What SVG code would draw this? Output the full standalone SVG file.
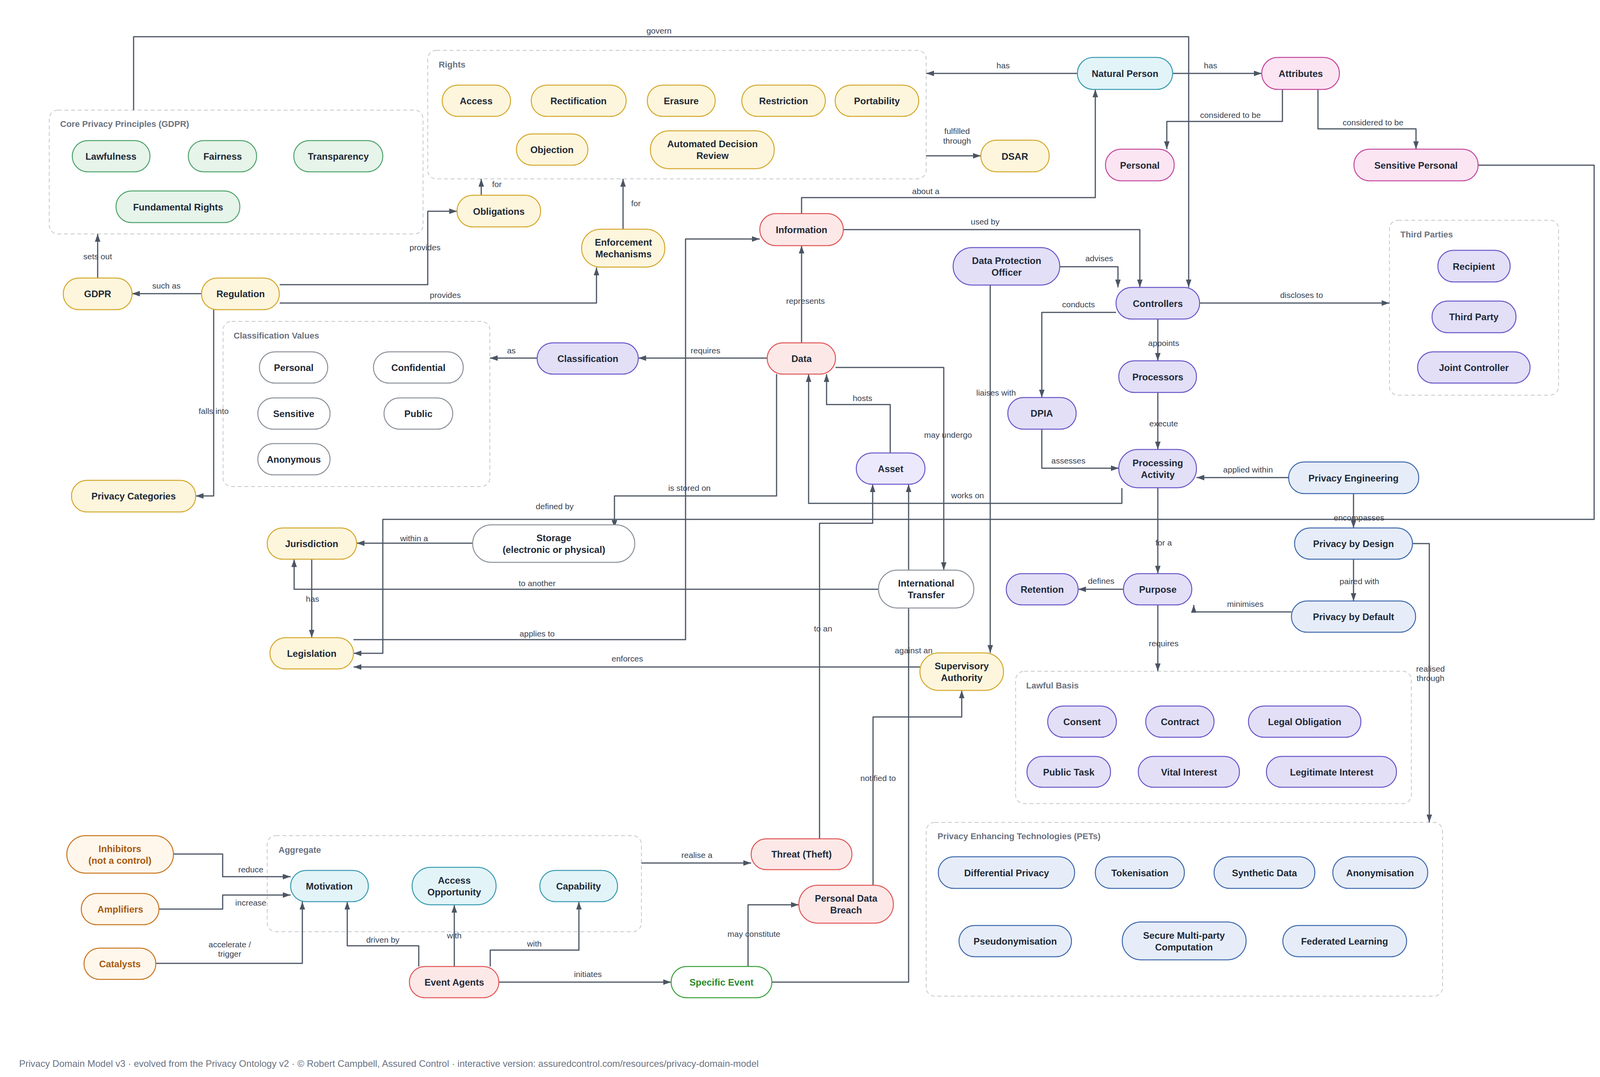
<svg xmlns="http://www.w3.org/2000/svg" width="4150" height="2758" viewBox="0 0 4150 2758">
<style>
text{font-family:"Liberation Sans",Arial,sans-serif;}
.n rect{stroke-width:2.5;}
.n text{font-size:24px;font-weight:bold;fill:#1f2937;text-anchor:middle;dominant-baseline:central;}
.y rect{fill:#fdf6dc;stroke:#d4a72c;}
.g rect{fill:#e6f4ea;stroke:#4fa36a;}
.r rect{fill:#fde8e8;stroke:#e05555;}
.p rect{fill:#e2dff7;stroke:#6a55c8;}
.pl rect{fill:#ebe9fb;stroke:#6a55c8;}
.b rect{fill:#e6edf8;stroke:#3f68ad;}
.c rect{fill:#e2f4f8;stroke:#3a9bb0;}
.k rect{fill:#fbe5f3;stroke:#c4479c;}
.w rect{fill:#ffffff;stroke:#8a9099;}
.o rect{fill:#fff7ec;stroke:#c8741e;}
.o text{fill:#a85a0e;}
.sg rect{fill:#ffffff;stroke:#3aa03a;}
.sg text{fill:#2a8a2a;}
.box{fill:none;stroke:#c4c8cc;stroke-width:2;stroke-dasharray:10 7;}
.bt{font-size:22px;font-weight:bold;fill:#6b7280;}
.e path{fill:none;stroke:#4b5563;stroke-width:3;stroke-linejoin:round;}
.e path.a{marker-end:url(#ah);}
.l{font-size:21px;fill:#374151;text-anchor:middle;dominant-baseline:central;}
</style>
<defs>
<marker id="ah" markerUnits="userSpaceOnUse" markerWidth="20" markerHeight="14" refX="20" refY="7" orient="auto"><path d="M0,0 L20,7 L0,14 z" fill="#4b5563"/></marker>
</defs>
<rect width="4150" height="2758" fill="#ffffff"/>
<g id="boxes">
<rect class="box" x="1095" y="129" width="1276" height="329" rx="22"/><text class="bt" x="1123" y="173">Rights</text>
<rect class="box" x="126" y="282" width="957" height="317" rx="22"/><text class="bt" x="154" y="325">Core Privacy Principles (GDPR)</text>
<rect class="box" x="571" y="823" width="683" height="423" rx="22"/><text class="bt" x="598" y="867">Classification Values</text>
<rect class="box" x="3557" y="564" width="433" height="448" rx="22"/><text class="bt" x="3585" y="608">Third Parties</text>
<rect class="box" x="2600" y="1719" width="1013" height="339" rx="22"/><text class="bt" x="2627" y="1763">Lawful Basis</text>
<rect class="box" x="2371" y="2106" width="1322" height="445" rx="22"/><text class="bt" x="2400" y="2149">Privacy Enhancing Technologies (PETs)</text>
<rect class="box" x="684" y="2140" width="958" height="246" rx="22"/><text class="bt" x="713" y="2184">Aggregate</text>
</g>
<g id="edges" class="e">
<path class="a" d="M342,282 V94 H3043 V736"/>
<path class="a" d="M250,712 V599"/>
<path class="a" d="M516,752 H338"/>
<path class="a" d="M716,729 H1095 V541 H1170"/>
<path class="a" d="M716,776 H1527 V685"/>
<path class="a" d="M1232,500 V458"/>
<path class="a" d="M1595,587 V458"/>
<path class="a" d="M547,793 V1270 H501"/>
<path class="a" d="M1375,917 H1254"/>
<path class="a" d="M1964,917 H1634"/>
<path class="a" d="M2052,878 V629"/>
<path class="a" d="M2758,188 H2371"/>
<path class="a" d="M2371,399 H2511"/>
<path class="a" d="M2052,547 V506 H2804 V229"/>
<path class="a" d="M2159,588 H2918 V736"/>
<path class="a" d="M2713,683 H2862 V736"/>
<path class="a" d="M3002,188 H3230"/>
<path class="a" d="M3283,229 V311 H2987 V382"/>
<path class="a" d="M3374,229 V330 H3625 V382"/>
<path class="a" d="M3784,423 H4081 V1330 H980 V1673 H905"/>
<path class="a" d="M3071,776 H3557"/>
<path class="a" d="M2857,800 H2667 V1018"/>
<path class="a" d="M2964,817 V924"/>
<path class="a" d="M2964,1005 V1151"/>
<path class="a" d="M2667,1099 V1199 H2864"/>
<path class="a" d="M3299,1223 H3063"/>
<path class="a" d="M3465,1264 V1352"/>
<path class="a" d="M2964,1249 V1469"/>
<path class="a" d="M3465,1432 V1539"/>
<path class="a" d="M3306,1567 H3056 V1549"/>
<path class="a" d="M2876,1509 H2760"/>
<path class="a" d="M2964,1549 V1719"/>
<path class="a" d="M3616,1392 H3659 V2106"/>
<path class="a" d="M2535,730 V1672"/>
<path class="a" d="M2279,1160 V1036 H2116 V958"/>
<path class="a" d="M2872,1250 V1289 H2070 V958"/>
<path class="a" d="M2139,941 H2416 V1460"/>
<path class="a" d="M1988,958 V1270 H1573 V1352"/>
<path class="a" d="M905,1638 H1755 V612 H1945"/>
<path class="a" d="M1210,1391 H913"/>
<path class="a" d="M2249,1509 H753 V1432"/>
<path class="a" d="M798,1432 V1633"/>
<path class="a" d="M2355,1708 H905"/>
<path class="a" d="M2098,2148 V1340 H2234 V1240"/>
<path class="a" d="M1976,2515 H2326 V1240"/>
<path class="a" d="M2235,2267 V1836 H2462 V1768"/>
<path class="a" d="M1915,2475 V2317 H2045"/>
<path class="a" d="M1642,2210 H1923"/>
<path class="a" d="M444,2187 H570 V2245 H744"/>
<path class="a" d="M407,2328 H570 V2292 H744"/>
<path class="a" d="M399,2467 H774 V2309"/>
<path class="a" d="M1072,2475 V2422 H889 V2309"/>
<path class="a" d="M1163,2475 V2317"/>
<path class="a" d="M1255,2475 V2433 H1482 V2309"/>
<path class="a" d="M1277,2515 H1718"/>
</g>
<g id="edge-labels">
<text class="l" x="1687" y="78">govern</text>
<text class="l" x="250" y="656">sets out</text>
<text class="l" x="426" y="731">such as</text>
<text class="l" x="1088" y="633">provides</text>
<text class="l" x="1140" y="755">provides</text>
<text class="l" x="1272" y="471">for</text>
<text class="l" x="1628" y="520">for</text>
<text class="l" x="547" y="1052">falls into</text>
<text class="l" x="1309" y="897">as</text>
<text class="l" x="1806" y="897">requires</text>
<text class="l" x="2062" y="770">represents</text>
<text class="l" x="2568" y="167">has</text>
<text class="l" x="2450" y="335">fulfilled</text>
<text class="l" x="2450" y="360">through</text>
<text class="l" x="2370" y="489">about a</text>
<text class="l" x="2522" y="567">used by</text>
<text class="l" x="2814" y="661">advises</text>
<text class="l" x="3099" y="167">has</text>
<text class="l" x="3150" y="294">considered to be</text>
<text class="l" x="3515" y="313">considered to be</text>
<text class="l" x="1420" y="1296">defined by</text>
<text class="l" x="3332" y="755">discloses to</text>
<text class="l" x="2761" y="779">conducts</text>
<text class="l" x="2979" y="878">appoints</text>
<text class="l" x="2979" y="1084">execute</text>
<text class="l" x="2735" y="1179">assesses</text>
<text class="l" x="3195" y="1202">applied within</text>
<text class="l" x="3479" y="1325">encompasses</text>
<text class="l" x="2979" y="1389">for a</text>
<text class="l" x="3480" y="1488">paired with</text>
<text class="l" x="3188" y="1546">minimises</text>
<text class="l" x="2819" y="1487">defines</text>
<text class="l" x="2979" y="1647">requires</text>
<text class="l" x="3662" y="1712">realised</text>
<text class="l" x="3662" y="1736">through</text>
<text class="l" x="2550" y="1005">liaises with</text>
<text class="l" x="2208" y="1019">hosts</text>
<text class="l" x="2477" y="1268">works on</text>
<text class="l" x="2427" y="1113">may undergo</text>
<text class="l" x="1765" y="1249">is stored on</text>
<text class="l" x="1375" y="1622">applies to</text>
<text class="l" x="1060" y="1378">within a</text>
<text class="l" x="1375" y="1493">to another</text>
<text class="l" x="800" y="1533">has</text>
<text class="l" x="1606" y="1686">enforces</text>
<text class="l" x="2107" y="1609">to an</text>
<text class="l" x="2339" y="1665">against an</text>
<text class="l" x="2248" y="1992">notified to</text>
<text class="l" x="1930" y="2391">may constitute</text>
<text class="l" x="1784" y="2189">realise a</text>
<text class="l" x="642" y="2226">reduce</text>
<text class="l" x="642" y="2311">increase</text>
<text class="l" x="588" y="2418">accelerate /</text>
<text class="l" x="588" y="2442">trigger</text>
<text class="l" x="980" y="2406">driven by</text>
<text class="l" x="1163" y="2395">with</text>
<text class="l" x="1368" y="2416">with</text>
<text class="l" x="1505" y="2494">initiates</text>
</g>
<g id="n-access" class="n y"><rect x="1132" y="218" width="175" height="80" rx="40"/><text x="1219" y="258">Access</text></g>
<g id="n-rectification" class="n y"><rect x="1360" y="218" width="243" height="80" rx="40"/><text x="1481" y="258">Rectification</text></g>
<g id="n-erasure" class="n y"><rect x="1657" y="218" width="174" height="80" rx="40"/><text x="1744" y="258">Erasure</text></g>
<g id="n-restriction" class="n y"><rect x="1899" y="218" width="214" height="80" rx="40"/><text x="2006" y="258">Restriction</text></g>
<g id="n-portability" class="n y"><rect x="2138" y="218" width="214" height="80" rx="40"/><text x="2245" y="258">Portability</text></g>
<g id="n-objection" class="n y"><rect x="1322" y="343" width="183" height="80" rx="40"/><text x="1413" y="383">Objection</text></g>
<g id="n-adr" class="n y"><rect x="1665" y="335" width="317" height="97" rx="48"/><text x="1824" y="383"><tspan x="1824" dy="-15">Automated Decision</tspan><tspan x="1824" dy="30">Review</tspan></text></g>
<g id="n-lawfulness" class="n g"><rect x="185" y="360" width="199" height="80" rx="40"/><text x="284" y="400">Lawfulness</text></g>
<g id="n-fairness" class="n g"><rect x="482" y="360" width="175" height="80" rx="40"/><text x="570" y="400">Fairness</text></g>
<g id="n-transparency" class="n g"><rect x="752" y="360" width="228" height="80" rx="40"/><text x="866" y="400">Transparency</text></g>
<g id="n-fundamental" class="n g"><rect x="297" y="489" width="317" height="81" rx="40"/><text x="456" y="530">Fundamental Rights</text></g>
<g id="n-gdpr" class="n y"><rect x="162" y="712" width="176" height="81" rx="40"/><text x="250" y="752">GDPR</text></g>
<g id="n-regulation" class="n y"><rect x="516" y="712" width="199" height="81" rx="40"/><text x="616" y="752">Regulation</text></g>
<g id="n-obligations" class="n y"><rect x="1170" y="500" width="214" height="81" rx="40"/><text x="1277" y="541">Obligations</text></g>
<g id="n-enforcement" class="n y"><rect x="1489" y="587" width="213" height="97" rx="48"/><text x="1596" y="635"><tspan x="1596" dy="-15">Enforcement</tspan><tspan x="1596" dy="30">Mechanisms</tspan></text></g>
<g id="n-dsar" class="n y"><rect x="2511" y="359" width="175" height="81" rx="40"/><text x="2598" y="400">DSAR</text></g>
<g id="n-privcat" class="n y"><rect x="183" y="1230" width="318" height="81" rx="40"/><text x="342" y="1270">Privacy Categories</text></g>
<g id="n-cv-personal" class="n w"><rect x="664" y="901" width="175" height="80" rx="40"/><text x="752" y="941">Personal</text></g>
<g id="n-cv-confidential" class="n w"><rect x="956" y="901" width="230" height="80" rx="40"/><text x="1071" y="941">Confidential</text></g>
<g id="n-cv-sensitive" class="n w"><rect x="660" y="1019" width="185" height="80" rx="40"/><text x="752" y="1059">Sensitive</text></g>
<g id="n-cv-public" class="n w"><rect x="983" y="1019" width="176" height="80" rx="40"/><text x="1071" y="1059">Public</text></g>
<g id="n-cv-anonymous" class="n w"><rect x="660" y="1136" width="185" height="80" rx="40"/><text x="752" y="1176">Anonymous</text></g>
<g id="n-classification" class="n p"><rect x="1375" y="878" width="259" height="80" rx="40"/><text x="1505" y="918">Classification</text></g>
<g id="n-data" class="n r"><rect x="1964" y="878" width="175" height="80" rx="40"/><text x="2052" y="918">Data</text></g>
<g id="n-information" class="n r"><rect x="1945" y="547" width="214" height="82" rx="41"/><text x="2052" y="588">Information</text></g>
<g id="n-naturalperson" class="n c"><rect x="2758" y="147" width="244" height="82" rx="41"/><text x="2880" y="188">Natural Person</text></g>
<g id="n-attributes" class="n k"><rect x="3230" y="147" width="199" height="82" rx="41"/><text x="3330" y="188">Attributes</text></g>
<g id="n-personal" class="n k"><rect x="2830" y="382" width="176" height="81" rx="40"/><text x="2918" y="423">Personal</text></g>
<g id="n-sensitivepersonal" class="n k"><rect x="3466" y="382" width="318" height="81" rx="40"/><text x="3625" y="423">Sensitive Personal</text></g>
<g id="n-dpo" class="n p"><rect x="2440" y="634" width="273" height="96" rx="48"/><text x="2577" y="682"><tspan x="2577" dy="-15">Data Protection</tspan><tspan x="2577" dy="30">Officer</tspan></text></g>
<g id="n-controllers" class="n p"><rect x="2857" y="736" width="214" height="81" rx="40"/><text x="2964" y="777">Controllers</text></g>
<g id="n-processors" class="n p"><rect x="2864" y="924" width="199" height="81" rx="40"/><text x="2964" y="965">Processors</text></g>
<g id="n-processing" class="n p"><rect x="2864" y="1151" width="199" height="98" rx="49"/><text x="2964" y="1200"><tspan x="2964" dy="-15">Processing</tspan><tspan x="2964" dy="30">Activity</tspan></text></g>
<g id="n-dpia" class="n p"><rect x="2580" y="1018" width="175" height="81" rx="40"/><text x="2667" y="1058">DPIA</text></g>
<g id="n-asset" class="n pl"><rect x="2192" y="1160" width="176" height="80" rx="40"/><text x="2280" y="1200">Asset</text></g>
<g id="n-recipient" class="n p"><rect x="3681" y="641" width="185" height="81" rx="40"/><text x="3773" y="682">Recipient</text></g>
<g id="n-thirdparty" class="n p"><rect x="3666" y="771" width="215" height="81" rx="40"/><text x="3773" y="811">Third Party</text></g>
<g id="n-jointcontroller" class="n p"><rect x="3629" y="901" width="288" height="80" rx="40"/><text x="3773" y="941">Joint Controller</text></g>
<g id="n-privacyeng" class="n b"><rect x="3299" y="1183" width="333" height="81" rx="40"/><text x="3465" y="1224">Privacy Engineering</text></g>
<g id="n-pbd" class="n b"><rect x="3314" y="1352" width="302" height="80" rx="40"/><text x="3465" y="1392">Privacy by Design</text></g>
<g id="n-pbdef" class="n b"><rect x="3306" y="1539" width="318" height="80" rx="40"/><text x="3465" y="1579">Privacy by Default</text></g>
<g id="n-purpose" class="n p"><rect x="2876" y="1469" width="175" height="80" rx="40"/><text x="2964" y="1509">Purpose</text></g>
<g id="n-retention" class="n p"><rect x="2576" y="1469" width="184" height="80" rx="40"/><text x="2668" y="1509">Retention</text></g>
<g id="n-consent" class="n p"><rect x="2682" y="1808" width="176" height="80" rx="40"/><text x="2770" y="1848">Consent</text></g>
<g id="n-contract" class="n p"><rect x="2933" y="1808" width="175" height="80" rx="40"/><text x="3021" y="1848">Contract</text></g>
<g id="n-legalobligation" class="n p"><rect x="3196" y="1808" width="288" height="80" rx="40"/><text x="3340" y="1848">Legal Obligation</text></g>
<g id="n-publictask" class="n p"><rect x="2629" y="1937" width="214" height="79" rx="39"/><text x="2736" y="1977">Public Task</text></g>
<g id="n-vitalinterest" class="n p"><rect x="2914" y="1937" width="259" height="79" rx="39"/><text x="3044" y="1977">Vital Interest</text></g>
<g id="n-legitimate" class="n p"><rect x="3242" y="1937" width="333" height="79" rx="39"/><text x="3409" y="1977">Legitimate Interest</text></g>
<g id="n-diffpriv" class="n b"><rect x="2402" y="2194" width="349" height="81" rx="40"/><text x="2577" y="2235">Differential Privacy</text></g>
<g id="n-tokenisation" class="n b"><rect x="2804" y="2194" width="228" height="81" rx="40"/><text x="2918" y="2235">Tokenisation</text></g>
<g id="n-synthetic" class="n b"><rect x="3108" y="2194" width="258" height="81" rx="40"/><text x="3237" y="2235">Synthetic Data</text></g>
<g id="n-anonymisation" class="n b"><rect x="3412" y="2194" width="243" height="81" rx="40"/><text x="3533" y="2235">Anonymisation</text></g>
<g id="n-pseudo" class="n b"><rect x="2455" y="2370" width="288" height="80" rx="40"/><text x="2599" y="2410">Pseudonymisation</text></g>
<g id="n-smpc" class="n b"><rect x="2873" y="2361" width="317" height="97" rx="48"/><text x="3031" y="2410"><tspan x="3031" dy="-15">Secure Multi-party</tspan><tspan x="3031" dy="30">Computation</tspan></text></g>
<g id="n-federated" class="n b"><rect x="3284" y="2370" width="317" height="80" rx="40"/><text x="3442" y="2410">Federated Learning</text></g>
<g id="n-storage" class="n w"><rect x="1210" y="1344" width="415" height="96" rx="48"/><text x="1418" y="1392"><tspan x="1418" dy="-15">Storage</tspan><tspan x="1418" dy="30">(electronic or physical)</tspan></text></g>
<g id="n-jurisdiction" class="n y"><rect x="684" y="1352" width="229" height="80" rx="40"/><text x="798" y="1392">Jurisdiction</text></g>
<g id="n-legislation" class="n y"><rect x="691" y="1633" width="214" height="80" rx="40"/><text x="798" y="1673">Legislation</text></g>
<g id="n-intltransfer" class="n w"><rect x="2249" y="1460" width="244" height="97" rx="48"/><text x="2371" y="1508"><tspan x="2371" dy="-15">International</tspan><tspan x="2371" dy="30">Transfer</tspan></text></g>
<g id="n-sa" class="n y"><rect x="2355" y="1672" width="214" height="96" rx="48"/><text x="2462" y="1720"><tspan x="2462" dy="-15">Supervisory</tspan><tspan x="2462" dy="30">Authority</tspan></text></g>
<g id="n-threat" class="n r"><rect x="1923" y="2148" width="258" height="79" rx="39"/><text x="2052" y="2187">Threat (Theft)</text></g>
<g id="n-pdb" class="n r"><rect x="2045" y="2267" width="242" height="97" rx="48"/><text x="2166" y="2315"><tspan x="2166" dy="-15">Personal Data</tspan><tspan x="2166" dy="30">Breach</tspan></text></g>
<g id="n-specificevent" class="n sg"><rect x="1718" y="2475" width="258" height="80" rx="40"/><text x="1847" y="2515">Specific Event</text></g>
<g id="n-motivation" class="n c"><rect x="744" y="2229" width="199" height="80" rx="40"/><text x="843" y="2269">Motivation</text></g>
<g id="n-access-opp" class="n c"><rect x="1055" y="2221" width="215" height="96" rx="48"/><text x="1163" y="2269"><tspan x="1163" dy="-15">Access</tspan><tspan x="1163" dy="30">Opportunity</tspan></text></g>
<g id="n-capability" class="n c"><rect x="1382" y="2229" width="199" height="80" rx="40"/><text x="1481" y="2269">Capability</text></g>
<g id="n-inhibitors" class="n o"><rect x="171" y="2140" width="273" height="96" rx="48"/><text x="307" y="2188"><tspan x="307" dy="-15">Inhibitors</tspan><tspan x="307" dy="30">(not a control)</tspan></text></g>
<g id="n-amplifiers" class="n o"><rect x="208" y="2288" width="199" height="80" rx="40"/><text x="308" y="2328">Amplifiers</text></g>
<g id="n-catalysts" class="n o"><rect x="215" y="2428" width="184" height="80" rx="40"/><text x="307" y="2468">Catalysts</text></g>
<g id="n-eventagents" class="n r"><rect x="1048" y="2475" width="229" height="80" rx="40"/><text x="1163" y="2515">Event Agents</text></g>
<text x="49" y="2732" font-size="24" fill="#6b7280">Privacy Domain Model v3 · evolved from the Privacy Ontology v2 · © Robert Campbell, Assured Control · interactive version: assuredcontrol.com/resources/privacy-domain-model</text>
</svg>
